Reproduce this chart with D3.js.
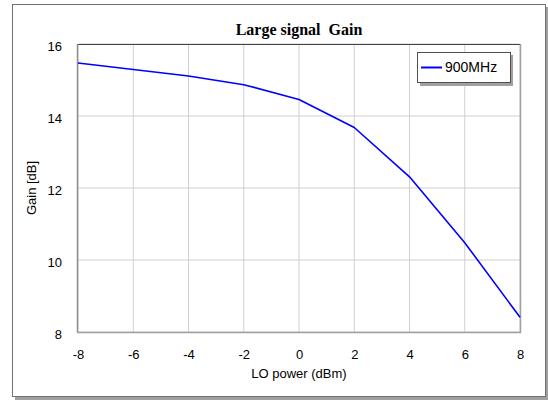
<!DOCTYPE html>
<html><head><meta charset="utf-8">
<script src="https://cdn.jsdelivr.net/npm/d3@7"></script>
<style>body{margin:0;background:#fff;}svg{display:block;}</style>
</head><body>
<svg id="c" width="548" height="401"></svg>
<script>
const loPower = [-8, -6, -4, -2, 0, 2, 4, 6, 8];
const gain900 = [15.47, 15.29, 15.11, 14.87, 14.46, 13.68, 12.31, 10.48, 8.41];
const xTicks = [-8, -6, -4, -2, 0, 2, 4, 6, 8];
const yTicks = [8, 10, 12, 14, 16];
const seriesName = "900MHz";
const title = "Large signal  Gain";
const xTitle = "LO power (dBm)";
const yTitle = "Gain [dB]";

const svg = d3.select("#c");
const L = 78, R = 520, T = 44, B = 332;
const x = d3.scaleLinear().domain([-8, 8]).range([L, R]);
const y = d3.scaleLinear().domain([8, 16]).range([B, T]);

// outer frame with shadow
svg.append("rect").attr("x", 15).attr("y", 7).attr("width", 533).attr("height", 393).attr("fill", "#a0a0a0");
svg.append("rect").attr("x", 12.5).attr("y", 4.5).attr("width", 533).attr("height", 392)
  .attr("fill", "#fff").attr("stroke", "#707070").attr("stroke-width", 1);

// grid
const g = svg.append("g");
g.selectAll(".gx").data(xTicks).join("line")
  .attr("x1", d => x(d)).attr("x2", d => x(d)).attr("y1", T).attr("y2", B)
  .attr("stroke", "#d0d0d0").attr("stroke-width", 1);
g.selectAll(".gy").data(yTicks).join("line")
  .attr("x1", L).attr("x2", R).attr("y1", d => y(d)).attr("y2", d => y(d))
  .attr("stroke", "#d0d0d0").attr("stroke-width", 1);

const fmt = d => String(d);
// axes (labels only)
const xAxis = d3.axisBottom(x).tickValues(xTicks).tickSize(0).tickPadding(0).tickFormat(fmt);
const xa = svg.append("g").attr("transform", `translate(0,${B})`).call(xAxis);
xa.select(".domain").remove();
xa.selectAll("text").attr("dy", null).attr("y", 27).attr("font-family", "Arial, 'Liberation Sans', sans-serif")
  .attr("font-size", 13).attr("fill", "#000");

const yAxis = d3.axisLeft(y).tickValues(yTicks).tickSize(0).tickPadding(0).tickFormat(fmt);
const ya = svg.append("g").attr("transform", `translate(${L},0)`).call(yAxis);
ya.select(".domain").remove();
ya.selectAll("text").attr("x", -16).attr("dy", "0.35em").attr("font-family", "Arial, 'Liberation Sans', sans-serif")
  .attr("font-size", 13).attr("fill", "#000");
ya.selectAll(".tick").attr("transform", d => `translate(0,${y(d) + 2})`);

// plot border
svg.append("line").attr("x1", L).attr("x2", R).attr("y1", T + 0.5).attr("y2", T + 0.5).attr("stroke", "#404040");
svg.append("line").attr("x1", L - 0.5).attr("x2", L - 0.5).attr("y1", T).attr("y2", B).attr("stroke", "#909090").attr("stroke-width", 1.5);
svg.append("line").attr("x1", R + 0.5).attr("x2", R + 0.5).attr("y1", T).attr("y2", B + 1).attr("stroke", "#a0a0a0").attr("stroke-width", 1.5);
svg.append("line").attr("x1", L - 1).attr("x2", R + 1).attr("y1", B + 0.5).attr("y2", B + 0.5).attr("stroke", "#a0a0a0").attr("stroke-width", 1.5);

// series line
const line = d3.line().x((d, i) => x(loPower[i])).y(d => y(d));
svg.append("path").datum(gain900).attr("d", line).attr("fill", "none")
  .attr("stroke", "#0000ff").attr("stroke-width", 1.6).attr("stroke-linejoin", "round");

// title
svg.append("text").attr("x", (L + R) / 2).attr("y", 35).attr("text-anchor", "middle")
  .attr("font-family", "'Liberation Serif', 'Times New Roman', serif").attr("font-weight", "bold")
  .attr("font-size", 16).attr("xml:space", "preserve").style("white-space", "pre").text(title);

// axis titles
svg.append("text").attr("x", (L + R) / 2).attr("y", 378).attr("text-anchor", "middle")
  .attr("font-family", "Arial, 'Liberation Sans', sans-serif").attr("font-size", 13).text(xTitle);
svg.append("text").attr("transform", `translate(36,${(T + B) / 2}) rotate(-90)`).attr("text-anchor", "middle")
  .attr("font-family", "Arial, 'Liberation Sans', sans-serif").attr("font-size", 13).text(yTitle);

// legend
const lg = svg.append("g");
lg.append("rect").attr("x", 420).attr("y", 55).attr("width", 93).attr("height", 31).attr("fill", "#a0a0a0");
lg.append("rect").attr("x", 417.5).attr("y", 52.5).attr("width", 93).attr("height", 30)
  .attr("fill", "#fff").attr("stroke", "#505050");
lg.append("line").attr("x1", 421).attr("x2", 442).attr("y1", 67.5).attr("y2", 67.5)
  .attr("stroke", "#0000ff").attr("stroke-width", 2);
lg.append("text").attr("x", 445).attr("y", 72).attr("font-family", "Arial, 'Liberation Sans', sans-serif")
  .attr("font-size", 14).text(seriesName);
</script>
</body></html>
